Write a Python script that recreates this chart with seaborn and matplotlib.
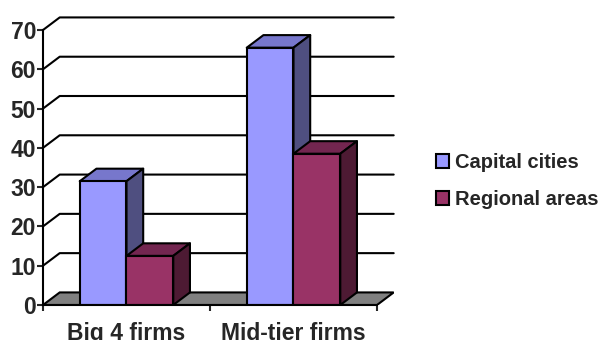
import matplotlib
matplotlib.use('Agg')
import matplotlib.pyplot as plt
from matplotlib.patches import Polygon, Patch
import seaborn as sns
import pandas as pd

categories = ['Big 4 firms', 'Mid-tier firms']
series = ['Capital cities', 'Regional areas']
capital = [31.5, 65.5]
regional = [12.5, 38.5]
yticks = [0, 10, 20, 30, 40, 50, 60, 70]

front_cols = {'Capital cities': '#9999FF', 'Regional areas': '#993366'}
top_cols = {'Capital cities': '#7777CC', 'Regional areas': '#732650'}
side_cols = {'Capital cities': '#4F4F80', 'Regional areas': '#4D1A33'}

# fake depth of the excel 3d look, in data units
DX = 0.10
DY = 3.2
LW = 1.5
FS = 14.5
TFS = 16.5


def _frame():
    rows = []
    for c, a, b in zip(categories, capital, regional):
        rows.append([c, 'Capital cities', a])
        rows.append([c, 'Regional areas', b])
    return pd.DataFrame(rows, columns=['cat', 'series', 'val'])


def _plot(df, save_path):
    sns.set_style('white')
    plt.rcParams['font.family'] = ['Liberation Sans', 'DejaVu Sans']
    plt.rcParams['font.weight'] = 'bold'

    fig = plt.figure(figsize=(6.15, 3.4), dpi=100)
    ppu = 275 / 70.0  # px per value unit
    ax = fig.add_axes([43 / 615, 35 / 340, 350.7 / 615, 74 * ppu / 340])

    sns.barplot(data=df, x='cat', y='val', hue='series', order=categories,
                hue_order=series, palette=front_cols, width=0.56, saturation=1,
                edgecolor='black', linewidth=LW, legend=False, ax=ax)
    ax.set_xlim(-0.5, 1.6)
    ax.set_ylim(0, 74)

    # back wall gridlines with the diagonal run from the front axis
    for v in yticks[1:]:
        ax.plot([-0.5, -0.5 + DX, 1.5 + DX], [v, v + DY, v + DY],
                color='black', lw=LW, zorder=1, clip_on=False)

    # floor
    floor = Polygon([(-0.5, 0), (1.5, 0), (1.5 + DX, DY), (-0.5 + DX, DY)],
                    closed=True, facecolor='#808080', edgecolor='black',
                    lw=LW, zorder=2)
    ax.add_patch(floor)

    rects = list(ax.patches)[:4]
    names = [series[0]] * len(categories) + [series[1]] * len(categories)
    order = sorted(range(len(rects)), key=lambda i: rects[i].get_x())
    for k, i in enumerate(order):
        r = rects[i]
        x0, w, h = r.get_x(), r.get_width(), r.get_height()
        z = 3 + k * 3
        top = Polygon([(x0, h), (x0 + w, h), (x0 + w + DX, h + DY), (x0 + DX, h + DY)],
                      closed=True, facecolor=top_cols[names[i]], edgecolor='black',
                      lw=LW, zorder=z, joinstyle='round')
        side = Polygon([(x0 + w, 0), (x0 + w + DX, DY), (x0 + w + DX, h + DY), (x0 + w, h)],
                       closed=True, facecolor=side_cols[names[i]], edgecolor='black',
                       lw=LW, zorder=z, joinstyle='round')
        ax.add_patch(top)
        ax.add_patch(side)
        r.set_zorder(z + 1)

    for s in ['top', 'right']:
        ax.spines[s].set_visible(False)
    ax.spines['left'].set_bounds(0, 70)
    ax.spines['bottom'].set_bounds(-0.5, 1.5)
    for s in ['left', 'bottom']:
        ax.spines[s].set_linewidth(LW)
        ax.spines[s].set_color('black')
        ax.spines[s].set_zorder(20)

    ax.set_yticks(yticks)
    ax.set_yticklabels([str(t) for t in yticks], fontsize=TFS, fontweight='bold')
    ax.tick_params(axis='y', direction='out', length=4, width=LW, pad=1, left=True)
    ax.set_xticks([-0.5, 0.5, 1.5])
    ax.set_xticklabels([])
    ax.set_xticks([0, 1], minor=True)
    ax.set_xticklabels(categories, minor=True, fontsize=TFS, fontweight='bold')
    ax.tick_params(axis='x', which='major', direction='out', length=4, width=LW, bottom=True)
    ax.tick_params(axis='x', which='minor', length=0, pad=12.5)
    ax.set_xlabel('')
    ax.set_ylabel('')
    ax.grid(False)

    handles = [Patch(facecolor=front_cols[s], edgecolor='black', lw=LW) for s in series]
    fig.legend(handles, series, loc='center left', bbox_to_anchor=(426 / 615, 1 - 181 / 340),
               frameon=False, handlelength=0.65, handleheight=0.65, handletextpad=0.3,
               labelspacing=0.9, borderpad=0, prop={'size': FS, 'weight': 'bold'})

    fig.savefig(save_path, dpi=100)


if __name__ == '__main__':
    _plot(_frame(), 'out.png')
